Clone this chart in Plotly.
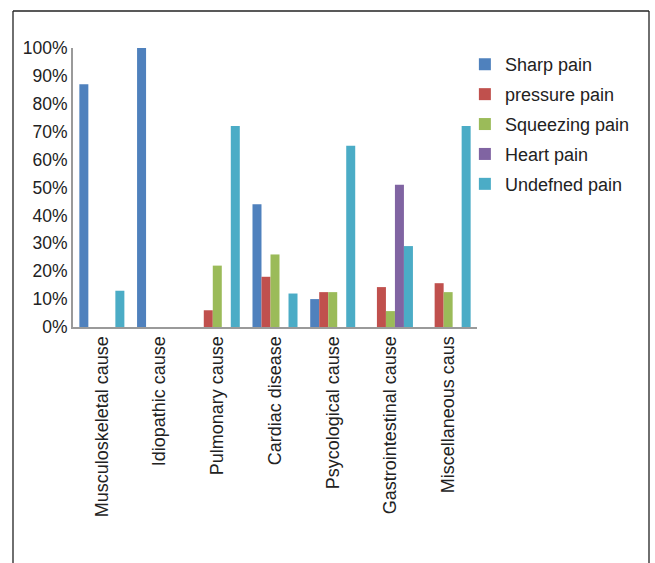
import plotly.graph_objects as go

categories = ["Musculoskeletal cause", "Idiopathic cause", "Pulmonary cause",
              "Cardiac disease", "Psycological cause", "Gastrointestinal cause",
              "Miscellaneous caus"]
series_names = ["Sharp pain", "pressure pain", "Squeezing pain", "Heart pain", "Undefned pain"]
sharp = [0.87, 1.00, 0, 0.44, 0.10, 0, 0]
pressure = [0, 0, 0.06, 0.18, 0.125, 0.143, 0.157]
squeezing = [0, 0, 0.22, 0.26, 0.125, 0.057, 0.125]
heart = [0, 0, 0, 0, 0, 0.51, 0]
undefined = [0.13, 0, 0.72, 0.12, 0.65, 0.29, 0.72]
colors = ["#4F81BD", "#C0504D", "#9BBB59", "#8064A2", "#4BACC6"]
yticks = [0, 0.1, 0.2, 0.3, 0.4, 0.5, 0.6, 0.7, 0.8, 0.9, 1.0]

FONT = "Arial, Liberation Sans, sans-serif"
fig = go.Figure()
for i, (name, vals) in enumerate(zip(series_names, [sharp, pressure, squeezing, heart, undefined])):
    fig.add_trace(go.Bar(x=categories, y=vals, name=name, marker_color=colors[i],
                         marker_line_width=0, legendgroup=name))

W, H = 655, 563
L, R, T, B = 73, 178, 48, 236
pw, ph = W - L - R, H - T - B

def px2paper(x, y):
    return (x - L) / pw, (H - B - y) / ph

x0, y0 = px2paper(13, 11)
x1, y1 = px2paper(649, 570)
for (xa, ya, xb, yb) in [(x0, y0, x1, y0), (x0, y0, x0, y1), (x1, y0, x1, y1)]:
    fig.add_shape(type="line", xref="paper", yref="paper", x0=xa, y0=ya, x1=xb, y1=yb,
                  line=dict(color="#222222", width=1.3))

fig.update_layout(
    width=W, height=H,
    margin=dict(l=L, r=R, t=T, b=B, pad=0),
    paper_bgcolor="white", plot_bgcolor="white",
    barmode="group", bargap=0.22, bargroupgap=0,
    font=dict(family=FONT, size=18, color="#222222"),
    legend=dict(x=0.97, y=1.007, xanchor="left", yanchor="top",
                font=dict(size=18, color="#222222"), tracegroupgap=3.5,
                traceorder="grouped", bgcolor="rgba(0,0,0,0)"),
    showlegend=True,
)
fig.update_xaxes(tickangle=-90, showline=True, linecolor="#9A9A9A", linewidth=2,
                 showgrid=False, ticks="", tickfont=dict(size=18, color="#222222"))
fig.update_yaxes(range=[0, 1.0], tickvals=yticks, tickformat=".0%", showline=True,
                 linecolor="#9A9A9A", linewidth=2, showgrid=False, zeroline=False,
                 ticks="", tickfont=dict(size=17.5, color="#222222"))

fig.write_html("out.html")
